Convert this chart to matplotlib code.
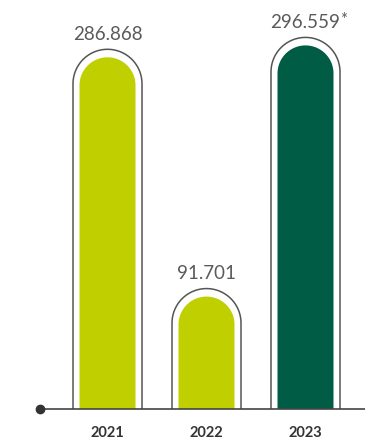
import numpy as np
import matplotlib.pyplot as plt
from matplotlib.path import Path
from matplotlib.patches import PathPatch

years = ["2021", "2022", "2023"]
values = [286.868, 91.701, 296.559]
labels = ["286.868", "91.701", "296.559"]
notes = ["", "", "*"]
colors = ["#bfcf00", "#bfcf00", "#005c45"]

plt.rcParams['font.family'] = ['Lato', 'DejaVu Sans']

fig = plt.figure(figsize=(3.65, 4.4), dpi=100)
ax = fig.add_axes([0, 31 / 440, 1, 409 / 440])
ax.set_xlim(-1.086, 2.601)
ax.set_ylim(0, 333.6)
ax.axis('off')

# pixel -> data conversions
p0 = ax.transData.transform((0, 0))
p1 = ax.transData.transform((1, 1))
px_x = p1[0] - p0[0]
px_y = p1[1] - p0[1]


def capsule(xc, hw, top, closed):
    ry = hw * px_x / px_y
    t = np.linspace(0, np.pi, 60)
    arc_v = np.column_stack([xc + hw * np.cos(t), top - ry + ry * np.sin(t)])
    verts = [(xc + hw, 0)] + [tuple(p) for p in arc_v] + [(xc - hw, 0)]
    codes = [Path.MOVETO] + [Path.LINETO] * (len(arc_v) + 1)
    if closed:
        verts.append((xc + hw, 0))
        codes.append(Path.CLOSEPOLY)
    return Path(verts, codes)


hw_fill = 28 / px_x
hw_out = 34.5 / px_x
gap_top = 8 / px_y

for i, v in enumerate(values):
    ax.add_patch(PathPatch(capsule(i, hw_fill, v, True), facecolor=colors[i],
                           edgecolor='none', zorder=2))
    out_top = v + gap_top
    ax.add_patch(PathPatch(capsule(i, hw_out, out_top, False), facecolor='none',
                           edgecolor='#555555', lw=1.1, zorder=3))
    t = ax.annotate(labels[i], xy=(i, out_top), xytext=(0, 7), textcoords='offset points',
                    ha='center', va='baseline', fontsize=13.5, color='#5a5a5a')
    if notes[i]:
        ax.annotate(notes[i], xy=(1, 1), xycoords=t, xytext=(-0.5, 1.5),
                    textcoords='offset points', ha='left', va='top',
                    fontsize=12, color='#5a5a5a')
    ax.annotate(years[i], xy=(i, 0), xytext=(0, -17), textcoords='offset points',
                ha='center', va='center', fontsize=10.5, color='#333333',
                fontweight='bold')

# baseline axis with dot
ax.plot([-0.682, 2.601], [0, 0], color='#444444', lw=1.2, zorder=4, clip_on=False)
ax.plot([-0.682], [0], marker='o', ms=6, color='#333333', zorder=5, clip_on=False)

fig.savefig('out.png', dpi=100)
